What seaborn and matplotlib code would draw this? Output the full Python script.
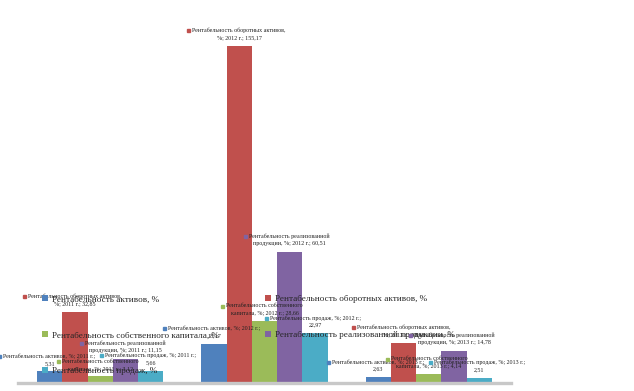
import textwrap
import numpy as np
import pandas as pd
import matplotlib
matplotlib.use('Agg')
import matplotlib.pyplot as plt
import seaborn as sns
from matplotlib.patches import Rectangle
from matplotlib.transforms import IdentityTransform

# Data.
years = ['2011', '2012', '2013']
series = ['Рентабельность активов, %',
          'Рентабельность оборотных активов, %',
          'Рентабельность собственного капитала, %',
          'Рентабельность реализованной продукции, %',
          'Рентабельность продаж, %']
assets = [5.31, 18.17, 2.63]
current_assets = [32.85, 155.17, 18.61]
equity = [3.12, 28.66, 4.14]
products = [11.15, 60.51, 14.78]
sales = [5.66, 22.97, 2.51]
colors = ['#4F81BD', '#C0504D', '#9BBB59', '#8064A2', '#4BACC6']

values = [assets, current_assets, equity, products, sales]
df = pd.DataFrame({
    'year': np.tile(years, len(series)),
    'series': np.repeat(series, len(years)),
    'value': np.concatenate(values),
})

sns.set_style('white')
plt.rcParams['font.family'] = ['Liberation Serif', 'DejaVu Sans']

W, H = 634, 391
fig = plt.figure(figsize=(W / 100, H / 100), dpi=100)
ax = fig.add_axes([18 / W, 8 / H, 493 / W, 383 / H])

sns.barplot(data=df, x='year', y='value', hue='series', palette=colors,
            saturation=1, width=0.77, gap=0, ax=ax, legend=True,
            edgecolor='none')
ax.set_xlim(-0.5, 2.5)
ax.set_ylim(0, 176.3)
ax.set_xticks([])
ax.set_yticks([])
ax.set_xlabel('')
ax.set_ylabel('')
for s in ['left', 'right', 'top']:
    ax.spines[s].set_visible(False)
ax.spines['bottom'].set_color('#C8C8C8')
ax.spines['bottom'].set_linewidth(2.4)


def label_text(name, year, val):
    val_s = ('%.2f' % val).replace('.', ',')
    if len(name) <= 26:
        return '%s; %s г.;\n%s' % (name, year, val_s)
    full = '%s; %s\u00a0г.; %s' % (name, year, val_s)
    return '\n'.join(textwrap.wrap(full, 34)).replace('\u00a0', ' ')


labels = []
for i, cont in enumerate(ax.containers):
    for j, bar in enumerate(cont):
        x = bar.get_x() + bar.get_width() / 2
        y = bar.get_height()
        t = ax.annotate(label_text(series[i], years[j], values[i][j]),
                        (x, y), xytext=(0, 4), textcoords='offset points',
                        ha='center', va='bottom', fontsize=4.35,
                        linespacing=1.5, color='#222222', zorder=5)
        labels.append((t, colors[i]))

handles, names = ax.get_legend_handles_labels()
order = [0, 2, 4, 1, 3]
leg = ax.legend([handles[k] for k in order], [names[k] for k in order],
                ncol=2, loc='upper left',
                bbox_to_anchor=(42 / W, 1 - 295 / H),
                bbox_transform=fig.transFigure, frameon=False,
                prop={'family': 'Liberation Serif', 'size': 6.6},
                handlelength=0.7, handleheight=0.7, handletextpad=0.4,
                labelspacing=3.0, columnspacing=5.0,
                borderpad=0, borderaxespad=0)
leg.set_zorder(10)

# small coloured squares in front of each data label
fig.canvas.draw()
r = fig.canvas.get_renderer()
for t, c in labels:
    bb = t.get_window_extent(r)
    yc = bb.y1 - bb.height / 4
    fig.add_artist(Rectangle((bb.x0 - 5, yc - 1.5), 3, 3, color=c,
                             transform=IdentityTransform(), zorder=6))

fig.savefig('out.png', dpi=100)
